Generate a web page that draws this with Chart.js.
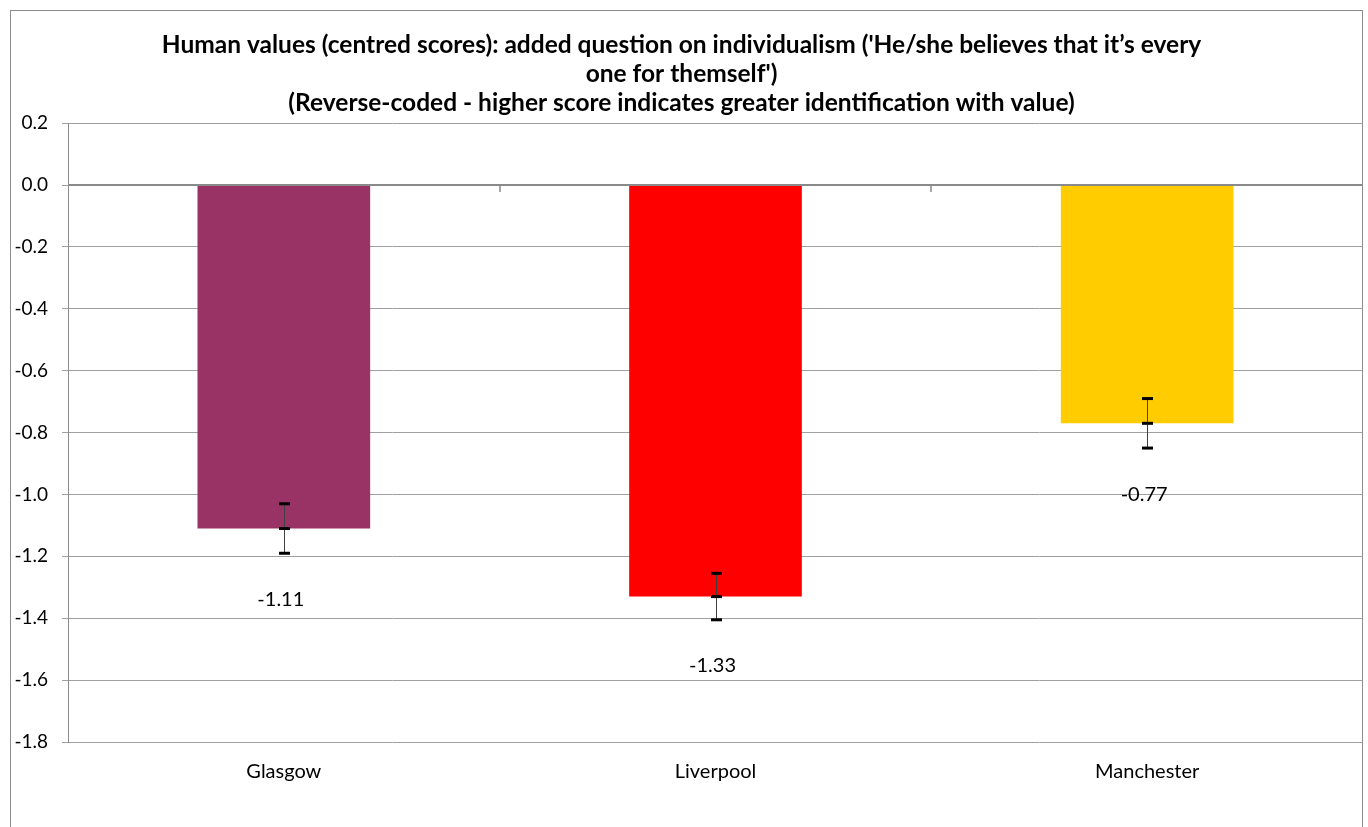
<!DOCTYPE html>
<html>
<head>
<meta charset="utf-8">
<script src="https://cdn.jsdelivr.net/npm/chart.js@4.4.1/dist/chart.umd.min.js"></script>
<style>
  html, body { margin: 0; padding: 0; background: #fff; overflow: hidden; }
  #wrap { position: relative; width: 1368px; height: 827px; }
  #frame { position: absolute; left: 10px; top: 10px; width: 1353px; height: 840px; border: 1px solid #8c8c8c; box-sizing: border-box; pointer-events: none; }
  canvas { position: absolute; left: 0; top: 0; }
</style>
</head>
<body>
<div id="wrap">
  <canvas id="c" width="1368" height="827"></canvas>
  <div id="frame"></div>
</div>
<script>
const categories = ['Glasgow', 'Liverpool', 'Manchester'];
const scores = [-1.11, -1.33, -0.77];
const errors = [0.08, 0.075, 0.08];
const barColors = ['#993366', '#FF0000', '#FFCC00'];
const titleLines = [
  "Human values (centred scores): added question on individualism ('He/she believes that it\u2019s every",
  "one for themself')",
  "(Reverse-coded - higher score indicates greater identification with value)"
];
const yTicks = [0.2, 0.0, -0.2, -0.4, -0.6, -0.8, -1.0, -1.2, -1.4, -1.6, -1.8];

const FONT = 'Lato, "Liberation Sans", sans-serif';

const errorBarPlugin = {
  id: 'errorBars',
  afterDatasetsDraw(chart) {
    const ctx = chart.ctx;
    const meta = chart.getDatasetMeta(0);
    const y = chart.scales.y;
    ctx.save();
    meta.data.forEach((bar, i) => {
      const x = Math.round(bar.x) + 0.5;
      const yTop = y.getPixelForValue(scores[i] + errors[i]);
      const yMid = y.getPixelForValue(scores[i]);
      const yBot = y.getPixelForValue(scores[i] - errors[i]);
      ctx.strokeStyle = '#404040';
      ctx.lineWidth = 1;
      ctx.beginPath();
      ctx.moveTo(x, yTop);
      ctx.lineTo(x, yBot);
      ctx.stroke();
      ctx.strokeStyle = '#000';
      ctx.lineWidth = 3;
      [yTop, yMid, yBot].forEach(py => {
        ctx.beginPath();
        ctx.moveTo(x - 5.5, py);
        ctx.lineTo(x + 5.5, py);
        ctx.stroke();
      });
      // value label
      ctx.fillStyle = '#000';
      ctx.font = '20px ' + FONT;
      ctx.textAlign = 'center';
      ctx.textBaseline = 'middle';
      ctx.fillText(scores[i].toFixed(2), bar.x - 3, yBot + 46);
    });
    ctx.restore();
  }
};

const zeroAxisPlugin = {
  id: 'zeroAxis',
  afterDatasetsDraw(chart) {
    const ctx = chart.ctx;
    const y0 = Math.round(chart.scales.y.getPixelForValue(0));
    const area = chart.chartArea;
    const xs = chart.scales.x;
    ctx.save();
    ctx.strokeStyle = '#8a8a8a';
    ctx.lineWidth = 2;
    ctx.beginPath();
    ctx.moveTo(area.left, y0);
    ctx.lineTo(area.right, y0);
    ctx.stroke();
    ctx.lineWidth = 1.5;
    for (let i = 1; i < categories.length; i++) {
      const xb = Math.round((xs.getPixelForValue(i - 1) + xs.getPixelForValue(i)) / 2);
      ctx.beginPath();
      ctx.moveTo(xb, y0);
      ctx.lineTo(xb, y0 + 7);
      ctx.stroke();
    }
    ctx.restore();
  }
};

new Chart(document.getElementById('c'), {
  type: 'bar',
  data: {
    labels: categories,
    datasets: [{
      data: scores,
      backgroundColor: barColors,
      borderWidth: 0,
      categoryPercentage: 1.0,
      barPercentage: 0.4
    }]
  },
  plugins: [errorBarPlugin, zeroAxisPlugin],
  options: {
    responsive: false,
    animation: false,
    devicePixelRatio: 1,
    layout: { padding: { left: 0, right: 5, top: 0, bottom: 0 } },
    plugins: {
      legend: { display: false },
      tooltip: { enabled: false },
      title: {
        display: true,
        text: titleLines,
        color: '#000',
        font: { family: FONT, size: 24.5, weight: 'bold', lineHeight: 1.2 },
        padding: { top: 30, bottom: 5 }
      }
    },
    scales: {
      x: {
        grid: { display: false, drawTicks: false },
        border: { display: false },
        ticks: { color: '#000', font: { family: FONT, size: 20 }, padding: 18 },
        afterFit(scale) { scale.height = 85; }
      },
      y: {
        min: -1.8,
        max: 0.2,
        afterBuildTicks(scale) { scale.ticks = yTicks.map(v => ({ value: v })); },
        ticks: {
          color: '#000',
          font: { family: FONT, size: 19 },
          padding: 14,
          callback: (v) => (Math.abs(v) < 1e-9 ? 0 : v).toFixed(1)
        },
        grid: { color: '#a0a0a0', lineWidth: 1, tickLength: 6, drawTicks: true },
        border: { display: true, color: '#8c8c8c', width: 1 },
        afterFit(scale) { scale.width = 68; }
      }
    }
  }
});
</script>
</body>
</html>
